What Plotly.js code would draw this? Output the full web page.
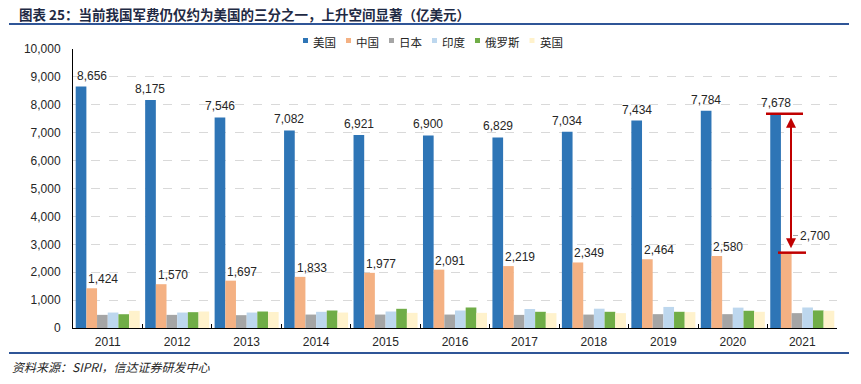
<!DOCTYPE html>
<html><head><meta charset="utf-8">
<script src="https://cdn.plot.ly/plotly-3.0.1.min.js"></script>
<style>html,body{margin:0;padding:0;background:#fff}#chart{width:861px;height:384px}</style>
</head><body><div id="chart"></div>
<script>
const years = ['2011','2012','2013','2014','2015','2016','2017','2018','2019','2020','2021'];
const seriesNames = ['美国','中国','日本','印度','俄罗斯','英国'];
const usa    = [8656,8175,7546,7082,6921,6900,6829,7034,7434,7784,7678];
const china  = [1424,1570,1697,1833,1977,2091,2219,2349,2464,2580,2700];
const japan  = [471,471,460,482,482,482,470,481,496,496,533];
const india  = [554,554,554,580,591,627,681,692,755,730,735];
const russia = [494,567,591,627,688,735,581,581,581,618,630];
const uk     = [615,591,573,554,543,543,533,533,570,581,618];
const colors = ['#2E75B6','#F4B183','#A5A5A5','#BDD7EE','#70AD47','#FFF2CC'];
const titleText = '图表 25：当前我国军费仍仅约为美国的三分之一，上升空间显著（亿美元）';
const sourceText = '资料来源：SIPRI，信达证券研发中心';

const W = 861, H = 384, L = 73, R = 24, T = 49, B = 56;
const pw = W - L - R, ph = H - T - B;
const px2x = p => (p - L) / pw;
const py2y = p => (H - B - p) / ph;
const bargap = 0.078;
const catw = pw / years.length;
const barw = catw * (1 - bargap) / 6;
const NUM = 'Liberation Sans, Arial, Noto Sans CJK SC, sans-serif';
const CJK = 'Noto Sans CJK SC, Liberation Sans, sans-serif';

const allData = [usa, china, japan, india, russia, uk];
const traces = allData.map((vals, i) => ({
  type: 'bar', name: seriesNames[i], x: years, y: vals,
  marker: {color: colors[i], line: {width: 0}},
  hoverinfo: 'skip', showlegend: false
}));

const annotations = [];
// US labels
usa.forEach((v, i) => {
  annotations.push({xref:'x', yref:'y', x: i, y: v, text: v.toLocaleString('en-US'),
    showarrow:false, xshift: -2.5*barw + (i === 0 ? 11 : 0), yshift: 11, yanchor:'middle',
    font:{family:NUM, size:12, color:'#262626'}});
});
// China labels
china.forEach((v, i) => {
  const last = i === china.length - 1;
  annotations.push({xref:'x', yref:'y', x: i, y: v, text: v.toLocaleString('en-US'),
    showarrow:false, xshift: last ? 12.7 : (-1.5*barw + 11.5), yshift: last ? 17 : 9, yanchor:'middle',
    font:{family:NUM, size:12, color:'#262626'}});
});
// legend (text)
const shapes = [];
let lx = 303;
seriesNames.forEach((n, i) => {
  shapes.push({type:'rect', xref:'paper', yref:'paper', x0:px2x(lx), x1:px2x(lx+5), y0:py2y(43), y1:py2y(38),
    fillcolor: colors[i], line:{width:0}});
  annotations.push({xref:'paper', yref:'paper', x:px2x(lx+8), y:py2y(41.5), xanchor:'left', yanchor:'middle',
    text:n, showarrow:false, font:{family:CJK, size:11.5, color:'#262626'}});
  lx += 5 + 4 + n.length*11.5 + 11;
});
// source
annotations.push({xref:'paper', yref:'paper', x:px2x(10), y:py2y(366.5), xanchor:'left', yanchor:'middle',
  text:'<i>'+sourceText+'</i>', showarrow:false, font:{family:CJK, size:12, color:'#262626'}});

// red annotation for 2021
const last = years.length - 1;
const toIdx = p => (p - L) / catw - 0.5;
shapes.push({type:'line', xref:'x', yref:'y', x0:toIdx(766), x1:toIdx(803), y0:usa[last], y1:usa[last],
  line:{color:'#C00000', width:2.5}});
shapes.push({type:'line', xref:'x', yref:'y', x0:toIdx(778), x1:toIdx(806), y0:china[last], y1:china[last],
  line:{color:'#C00000', width:2.5}});
shapes.push({type:'line', xref:'x', yref:'y', x0:toIdx(793), x1:toIdx(798), y0:3315, y1:3315,
  line:{color:'#A6A6A6', width:1}});
annotations.push({xref:'x', yref:'y', axref:'x', ayref:'y', x:toIdx(791), y:usa[last], ax:toIdx(791), ay:china[last],
  text:'', showarrow:true, arrowside:'end+start', arrowhead:2, startarrowhead:2, arrowsize:1, startarrowsize:1,
  arrowwidth:2, arrowcolor:'#C00000', standoff:4, startstandoff:3});

// frame lines
shapes.push({type:'line', xref:'paper', yref:'paper', x0:px2x(9), x1:px2x(849), y0:py2y(24), y1:py2y(24),
  line:{color:'#2F5597', width:2}});
shapes.push({type:'line', xref:'paper', yref:'paper', x0:px2x(9), x1:px2x(849), y0:py2y(353), y1:py2y(353),
  line:{color:'#2F5597', width:2}});

const layout = {
  width: W, height: H, margin:{l:L, r:R, t:T, b:B, pad:0},
  paper_bgcolor:'#fff', plot_bgcolor:'#fff',
  barmode:'group', bargap: bargap, bargroupgap: 0, showlegend:false,
  title:{text:'<b>'+titleText+'</b>', x:19/W, xanchor:'left', xref:'container', y:1-15/H, yanchor:'middle', yref:'container',
    font:{family:CJK, size:13.5, color:'#1F2A44'}},
  xaxis:{type:'category', range:[-0.5, years.length-0.5], autorange:false, showline:true, linecolor:'#000', linewidth:1,
    ticks:'inside', ticklen:4, tickcolor:'#000', tickson:'boundaries', showgrid:false, ticklabelstandoff:3,
    tickangle:0, tickfont:{family:NUM, size:12, color:'#262626'}},
  yaxis:{range:[0,10000], autorange:false, tickvals:[0,1000,2000,3000,4000,5000,6000,7000,8000,9000,10000], tickformat:',',
    showline:true, linecolor:'#000', linewidth:1, ticks:'', showgrid:true, gridcolor:'#D9D9D9', griddash:'dash',
    gridwidth:1, zeroline:false, ticklabelstandoff:9, tickfont:{family:NUM, size:12, color:'#262626'}},
  shapes: shapes, annotations: annotations
};
Plotly.newPlot('chart', traces, layout, {staticPlot:true, displayModeBar:false});
</script></body></html>
